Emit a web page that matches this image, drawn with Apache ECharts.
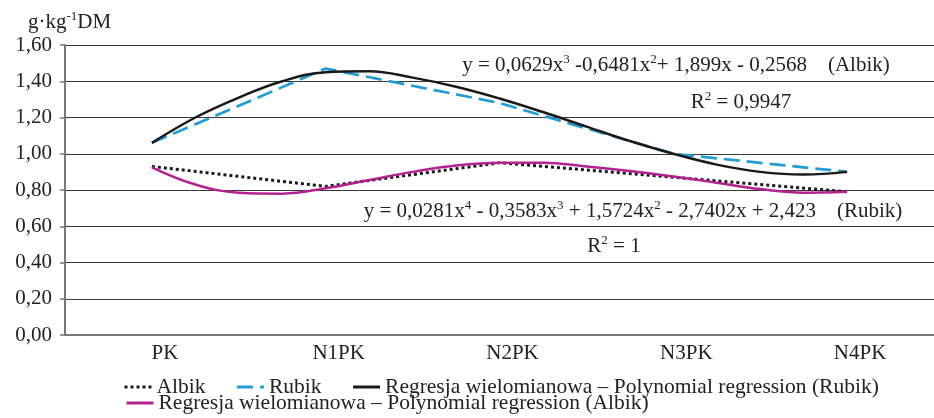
<!DOCTYPE html>
<html>
<head>
<meta charset="utf-8">
<script src="https://cdn.jsdelivr.net/npm/echarts@6/dist/echarts.min.js"></script>
<style>
  html, body { margin: 0; padding: 0; background: #fff; }
  #chart-main { width: 934px; height: 418px; }
</style>
</head>
<body>
<div id="chart-main"></div>
<script>
    'use strict';

    // measured values
    var categories = ['PK', 'N1PK', 'N2PK', 'N3PK', 'N4PK'];
    var albik = [0.93, 0.82, 0.95, 0.87, 0.79];
    var rubik = [1.06, 1.47, 1.28, 1.00, 0.90];

    // regression curves at quarter steps (1 = PK ... 5 = N4PK)
    var fitX = [1, 1.25, 1.5, 1.75, 2, 2.25, 2.5, 2.75, 3, 3.25, 3.5, 3.75, 4, 4.25, 4.5, 4.75, 5];
    var fitRubik = [1.06, 1.20, 1.31, 1.40, 1.45, 1.455, 1.42, 1.37, 1.305, 1.23, 1.15, 1.07, 1.00, 0.94, 0.90, 0.885, 0.90];
    var fitAlbik = [0.925, 0.83, 0.785, 0.78, 0.81, 0.855, 0.90, 0.935, 0.95, 0.95, 0.93, 0.905, 0.875, 0.84, 0.805, 0.785, 0.79];

    var nameAlbik = 'Albik';
    var nameRubik = 'Rubik';
    var nameFitRubik = 'Regresja wielomianowa – Polynomial regression (Rubik)';
    var nameFitAlbik = 'Regresja wielomianowa – Polynomial regression (Albik)';

    var serif = '"Liberation Serif", "DejaVu Serif", serif';

    var pairs = function (xs, ys) {
        return xs.map(function (x, i) { return [x, ys[i]]; });
    };

    var supRich = {
        s: { fontSize: 13, fontFamily: serif, verticalAlign: 'top', lineHeight: 12 }
    };

    var note = function (x, y, text) {
        return {
            type: 'text',
            x: x,
            y: y,
            style: {
                text: text,
                fontFamily: serif,
                fontSize: 21,
                lineHeight: 23,
                fill: '#222',
                align: 'center',
                verticalAlign: 'middle',
                rich: supRich
            }
        };
    };

    // hide the symbol that line series put in the middle of their legend icon
    var legendItemStyle = { color: 'rgba(0,0,0,0)', borderWidth: 0, borderColor: 'rgba(0,0,0,0)' };

    var option = {
        animation: false,
        backgroundColor: '#fff',
        grid: { left: 65, top: 45, width: 880, height: 290 },
        legend: [
            {
                data: [nameAlbik, nameRubik, nameFitRubik],
                left: 118, top: 371,
                itemWidth: 27, itemHeight: 12, itemGap: 30,
                itemStyle: legendItemStyle,
                lineStyle: { width: 3 },
                textStyle: { fontFamily: serif, fontSize: 21.5, color: '#222' }
            },
            {
                data: [nameFitAlbik],
                left: 120, top: 387,
                itemWidth: 27, itemHeight: 12,
                itemStyle: legendItemStyle,
                lineStyle: { width: 3 },
                textStyle: { fontFamily: serif, fontSize: 21.5, color: '#222' }
            }
        ],
        xAxis: [
            {
                type: 'category',
                data: categories,
                boundaryGap: true,
                axisLine: { lineStyle: { color: '#777', width: 2 } },
                axisTick: { length: 5, lineStyle: { color: '#777', width: 1.5 } },
                axisLabel: {
                    fontFamily: serif, fontSize: 21, color: '#222', margin: 8,
                    padding: [0, 0, 0, 26]
                },
                splitLine: { show: false }
            },
            {
                type: 'value',
                min: 0.5, max: 5.5,
                show: false
            }
        ],
        yAxis: {
            type: 'value',
            min: 0, max: 1.6, interval: 0.2,
            axisLine: { show: true, lineStyle: { color: '#777', width: 2 } },
            axisTick: { show: true, length: 5, lineStyle: { color: '#777', width: 1.5 } },
            axisLabel: {
                fontFamily: serif, fontSize: 21, color: '#222', margin: 13,
                formatter: function (v) { return v.toFixed(2).replace('.', ','); }
            },
            splitLine: { lineStyle: { color: '#3a3a3a', width: 1.2 } }
        },
        graphic: [
            {
                type: 'text', x: 28, y: 22,
                style: {
                    text: 'g·kg{s|-1}DM', fontFamily: serif, fontSize: 21, lineHeight: 23,
                    fill: '#222', align: 'left', verticalAlign: 'middle', rich: supRich
                }
            },
            note(676, 65, 'y = 0,0629x{s|3} -0,6481x{s|2}+ 1,899x - 0,2568    (Albik)'),
            note(741, 102, 'R{s|2} = 0,9947'),
            note(633, 211, 'y = 0,0281x{s|4} - 0,3583x{s|3} + 1,5724x{s|2} - 2,7402x + 2,423    (Rubik)'),
            note(614, 246, 'R{s|2} = 1')
        ],
        series: [
            {
                name: nameAlbik,
                type: 'line',
                data: albik,
                symbol: 'none',
                color: '#1a1a1a',
                lineStyle: { color: '#1a1a1a', width: 3, type: [3, 3] },
                z: 3
            },
            {
                name: nameRubik,
                type: 'line',
                data: rubik,
                symbol: 'none',
                color: '#1e9dd8',
                lineStyle: { color: '#1e9dd8', width: 2.7, type: [16, 7] },
                z: 3
            },
            {
                name: nameFitRubik,
                type: 'line',
                xAxisIndex: 1,
                data: pairs(fitX, fitRubik),
                smooth: 0.4,
                symbol: 'none',
                color: '#1a1a1a',
                lineStyle: { color: '#1a1a1a', width: 2.5 },
                z: 4
            },
            {
                name: nameFitAlbik,
                type: 'line',
                xAxisIndex: 1,
                data: pairs(fitX, fitAlbik),
                smooth: 0.4,
                symbol: 'none',
                color: '#b3228f',
                lineStyle: { color: '#b3228f', width: 2.5 },
                z: 4
            }
        ]
    };

    var myChart = echarts.init(document.getElementById('chart-main'), null, { renderer: 'canvas' });
    myChart.setOption(option);
</script>
</body>
</html>
